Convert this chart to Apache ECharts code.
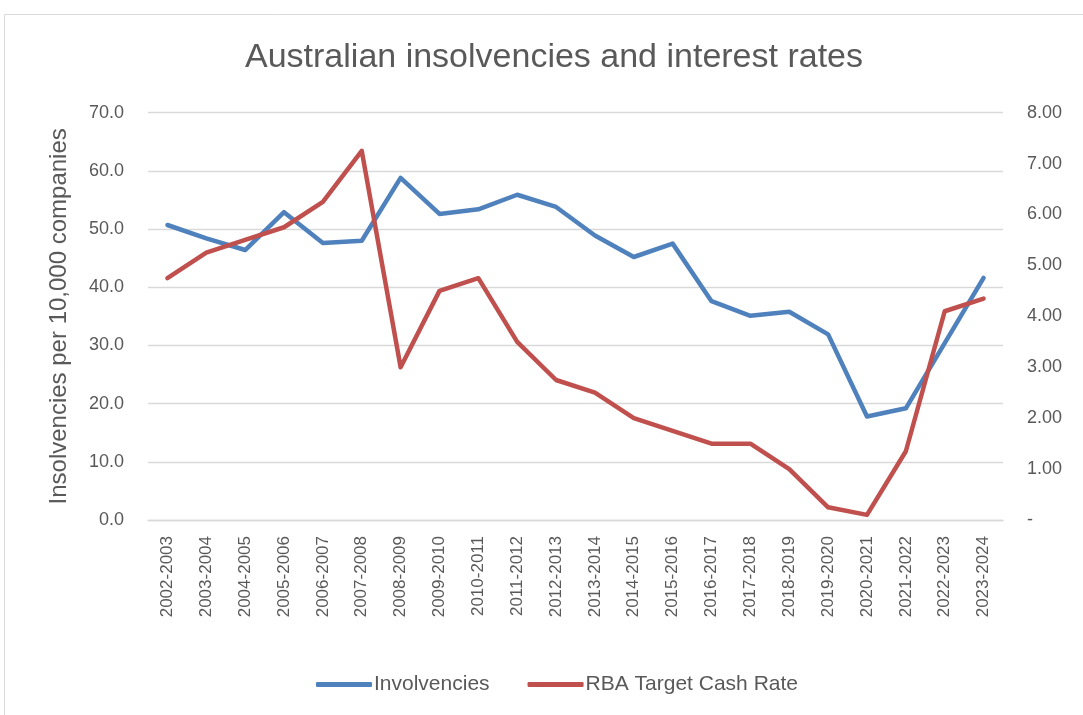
<!DOCTYPE html>
<html>
<head>
<meta charset="utf-8">
<script src="https://cdn.jsdelivr.net/npm/echarts@6/dist/echarts.min.js"></script>
<style>html,body{margin:0;padding:0;background:#fff;}#c{width:1083px;height:715px;}</style>
</head>
<body>
<div id="c"></div>
<script>
const categories = ['2002-2003','2003-2004','2004-2005','2005-2006','2006-2007','2007-2008','2008-2009','2009-2010','2010-2011','2011-2012','2012-2013','2013-2014','2014-2015','2015-2016','2016-2017','2017-2018','2018-2019','2019-2020','2020-2021','2021-2022','2022-2023','2023-2024'];
const insolvencies = [50.7,48.4,46.4,52.9,47.6,48.0,58.8,52.6,53.4,55.9,53.8,48.9,45.2,47.5,37.6,35.1,35.8,31.9,17.8,19.2,30.4,41.6];
const cashRate = [4.75,5.25,5.50,5.75,6.25,7.25,3.00,4.50,4.75,3.50,2.75,2.50,2.00,1.75,1.50,1.50,1.00,0.25,0.10,1.35,4.10,4.35];
const seriesNames = ['Involvencies','RBA Target Cash Rate'];
const titleText = 'Australian insolvencies and interest rates';
const leftAxisName = 'Insolvencies per 10,000 companies';

const FONT = 'Liberation Sans';
const GREY = '#595959';
const chart = echarts.init(document.getElementById('c'));
chart.setOption({
  animation: false,
  backgroundColor: '#fff',
  graphic: [{type:'rect', shape:{x:4.5,y:14.5,width:1100,height:720}, style:{fill:'none', stroke:'#d9d9d9', lineWidth:1}, silent:true}],
  title: {text: titleText, left: 549, textAlign: 'center', top: 36, textStyle:{fontFamily:FONT, fontSize:34, fontWeight:'normal', color:GREY}},
  legend: {
    bottom: 15, left: 311, itemGap: 38, itemWidth: 56, itemHeight: 5, icon: 'roundRect',
    textStyle: {fontFamily:FONT, fontSize:21, color:GREY, padding:[0,0,0,-3]},
    data: seriesNames
  },
  grid: {left:148, right:80, top:112.7, bottom:195},
  xAxis: {
    type:'category', data: categories, boundaryGap:true,
    axisLine:{show:true, lineStyle:{color:'#d9d9d9', width:1.3}},
    axisTick:{show:false},
    axisLabel:{rotate:90, interval:0, margin:16, fontFamily:FONT, fontSize:17, color:GREY}
  },
  yAxis: [
    {type:'value', min:0, max:70, interval:10, name:leftAxisName, nameLocation:'middle', nameGap:77, nameRotate:90,
     nameTextStyle:{fontFamily:FONT, fontSize:24, color:GREY},
     axisLine:{show:false}, axisTick:{show:false},
     splitLine:{lineStyle:{color:'#d9d9d9', width:1.3}},
     axisLabel:{margin:24, fontFamily:FONT, fontSize:18, color:GREY, formatter:v=>v.toFixed(1)}},
    {type:'value', min:0, max:8, interval:1, position:'right',
     axisLine:{show:false}, axisTick:{show:false}, splitLine:{show:false},
     axisLabel:{margin:24, fontFamily:FONT, fontSize:18, color:GREY, formatter:v=> v===0 ? '-' : v.toFixed(2)}}
  ],
  series: [
    {name:seriesNames[0], type:'line', data:insolvencies, yAxisIndex:0, symbol:'none', itemStyle:{color:'#4f81bd'},
     lineStyle:{color:'#4f81bd', width:4.5, cap:'round', join:'round'}},
    {name:seriesNames[1], type:'line', data:cashRate, yAxisIndex:1, symbol:'none', itemStyle:{color:'#c0504d'},
     lineStyle:{color:'#c0504d', width:4.5, cap:'round', join:'round'}}
  ]
});
</script>
</body>
</html>
